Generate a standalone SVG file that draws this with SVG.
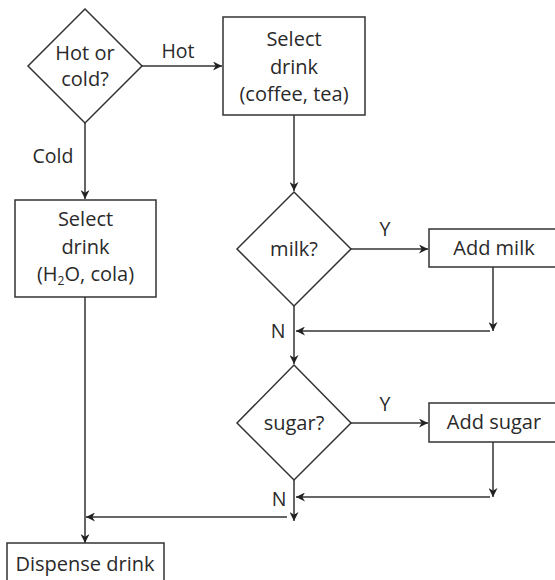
<svg xmlns="http://www.w3.org/2000/svg" width="555" height="580" viewBox="0 0 555 580">
<defs>
<marker id="arr" viewBox="0 0 10 10" refX="10" refY="5" markerWidth="9" markerHeight="9" markerUnits="userSpaceOnUse" orient="auto">
<path d="M0,0 L10,5 L0,10 L3,5 z" fill="#222"/>
</marker>
<style>
.shape{fill:#fff;stroke:#333;stroke-width:1.5}
.line{fill:none;stroke:#333;stroke-width:1.5}
text{font-family:"Open Sans","Noto Sans",sans-serif;font-size:20px;fill:#2a2a2a;text-anchor:middle}
.lbl{font-size:19.5px}
</style>
</defs>
<rect width="555" height="580" fill="#fff"/>
<g id="connectors">
<line class="line" x1="142" y1="66" x2="222" y2="66" marker-end="url(#arr)"/>
<line class="line" x1="85" y1="123" x2="85" y2="199" marker-end="url(#arr)"/>
<line class="line" x1="294" y1="115" x2="294" y2="191" marker-end="url(#arr)"/>
<line class="line" x1="351" y1="249" x2="428" y2="249" marker-end="url(#arr)"/>
<line class="line" x1="493" y1="267" x2="493" y2="331" marker-end="url(#arr)"/>
<line class="line" x1="490" y1="331" x2="296" y2="331" marker-end="url(#arr)"/>
<line class="line" x1="294" y1="306" x2="294" y2="364" marker-end="url(#arr)"/>
<line class="line" x1="351" y1="423" x2="428" y2="423" marker-end="url(#arr)"/>
<line class="line" x1="493" y1="442" x2="493" y2="497" marker-end="url(#arr)"/>
<line class="line" x1="490" y1="497" x2="296" y2="497" marker-end="url(#arr)"/>
<line class="line" x1="294" y1="480" x2="294" y2="521" marker-end="url(#arr)"/>
<line class="line" x1="287" y1="517" x2="86" y2="517" marker-end="url(#arr)"/>
<line class="line" x1="85" y1="297" x2="85" y2="543" marker-end="url(#arr)"/>
<text class="lbl" x="178" y="58">Hot</text>
<text class="lbl" x="53" y="163">Cold</text>
<text class="lbl" x="385" y="236">Y</text>
<text class="lbl" x="278" y="338">N</text>
<text class="lbl" x="385" y="411">Y</text>
<text class="lbl" x="279" y="506">N</text>
</g>
<g id="hot-or-cold">
<polygon class="shape" points="85,9 142,66 85,123 28,66"/>
<text x="85" y="60">Hot or</text>
<text x="85" y="86">cold?</text>
</g>
<g id="select-hot">
<rect class="shape" x="223" y="17" width="142" height="98"/>
<text x="294" y="46">Select</text>
<text x="294" y="74">drink</text>
<text x="294" y="101">(coffee, tea)</text>
</g>
<g id="select-cold">
<rect class="shape" x="15" y="200" width="141" height="97"/>
<text x="85.5" y="226">Select</text>
<text x="85.5" y="254">drink</text>
<text x="85.5" y="281">(H<tspan font-size="12" dy="4">2</tspan><tspan dy="-4">O, cola)</tspan></text>
</g>
<g id="milk">
<polygon class="shape" points="294,192 351,249 294,306 237,249"/>
<text x="294" y="256">milk?</text>
</g>
<g id="add-milk">
<rect class="shape" x="429" y="229" width="130" height="38"/>
<text x="494" y="255">Add milk</text>
</g>
<g id="sugar">
<polygon class="shape" points="294,365 351,423 294,480 237,423"/>
<text x="294" y="430">sugar?</text>
</g>
<g id="add-sugar">
<rect class="shape" x="429" y="403" width="130" height="39"/>
<text x="494" y="429">Add sugar</text>
</g>
<g id="dispense">
<rect class="shape" x="7" y="543" width="157" height="45"/>
<text x="85" y="571">Dispense drink</text>
</g>
</svg>
